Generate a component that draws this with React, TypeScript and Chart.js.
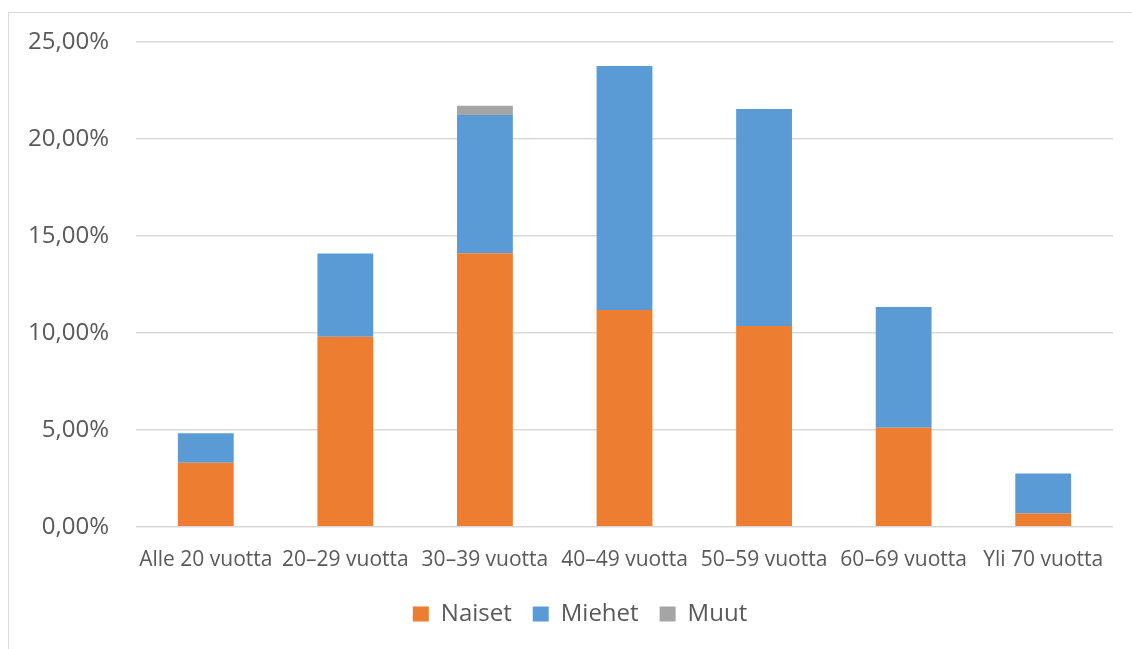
import React, { useEffect, useRef } from "react";
import { Chart, registerables } from "chart.js";

Chart.register(...registerables);

const categories = [
  "Alle 20 vuotta",
  "20–29 vuotta",
  "30–39 vuotta",
  "40–49 vuotta",
  "50–59 vuotta",
  "60–69 vuotta",
  "Yli 70 vuotta",
];

// Share of respondents per age group, in percent
const naiset = [3.3, 9.8, 14.11, 11.18, 10.36, 5.11, 0.69];
const miehet = [1.52, 4.29, 7.13, 12.58, 11.18, 6.23, 2.06];
const muut = [0, 0, 0.47, 0, 0, 0, 0];

const yTicks = [0, 5, 10, 15, 20, 25];

const FONT = "'Open Sans', sans-serif";
const TEXT = "#595959";

// Moves the legend block a little after layout: up, and centred under the plot
const legendNudge = {
  id: "legendNudge",
  afterLayout(chart: any) {
    const l = chart.legend;
    if (!l) return;
    l.top += -13;
    l.bottom += -13;
    l.left += 19;
    l.right += 19;
  },
};

export default function App() {
  const ref = useRef<HTMLCanvasElement | null>(null);

  useEffect(() => {
    if (!ref.current) return;
    const chart = new Chart(ref.current, {
      type: "bar",
      data: {
        labels: categories,
        datasets: [
          { label: "Naiset", data: naiset, backgroundColor: "#ED7D31" },
          { label: "Miehet", data: miehet, backgroundColor: "#5B9BD5" },
          { label: "Muut", data: muut, backgroundColor: "#A5A5A5" },
        ],
      },
      plugins: [legendNudge],
      options: {
        responsive: false,
        animation: false,
        layout: { padding: { top: 29, right: 19, left: 0, bottom: 0 } },
        datasets: {
          bar: { barPercentage: 0.4, categoryPercentage: 1 },
        },
        scales: {
          x: {
            stacked: true,
            grid: { display: false, drawTicks: false },
            border: { display: false },
            ticks: {
              color: TEXT,
              font: { family: FONT, size: 21 },
              padding: 21,
              maxRotation: 0,
              minRotation: 0,
              autoSkip: false,
            },
          },
          y: {
            stacked: true,
            min: 0,
            max: 25,
            afterFit: (scale: any) => {
              scale.width = 127;
            },
            afterBuildTicks: (scale: any) => {
              scale.ticks = yTicks.map((v) => ({ value: v }));
            },
            grid: { color: "#D9D9D9", lineWidth: 1.5, drawTicks: false },
            border: { display: false },
            ticks: {
              color: TEXT,
              // tiny lineHeight keeps the label half-height from padding the plot top
              font: { family: FONT, size: 24, lineHeight: 0.1 },
              padding: 27,
              callback: (v: any) => Number(v).toFixed(2).replace(".", ",") + "%",
            },
          },
        },
        plugins: {
          legend: {
            position: "bottom",
            labels: {
              color: TEXT,
              font: { family: FONT, size: 24 },
              boxWidth: 16,
              boxHeight: 15,
              padding: 21,
            },
          },
          tooltip: { enabled: false },
        },
      },
    });
    return () => chart.destroy();
  }, []);

  return (
    <div
      style={{
        position: "absolute",
        left: 8,
        top: 12,
        width: 1124,
        height: 637,
        borderLeft: "1px solid #D9D9D9",
        borderTop: "1px solid #D9D9D9",
        boxSizing: "border-box",
        background: "#fff",
      }}
    >
      <canvas ref={ref} width={1123} height={636} style={{ display: "block" }} />
    </div>
  );
}
